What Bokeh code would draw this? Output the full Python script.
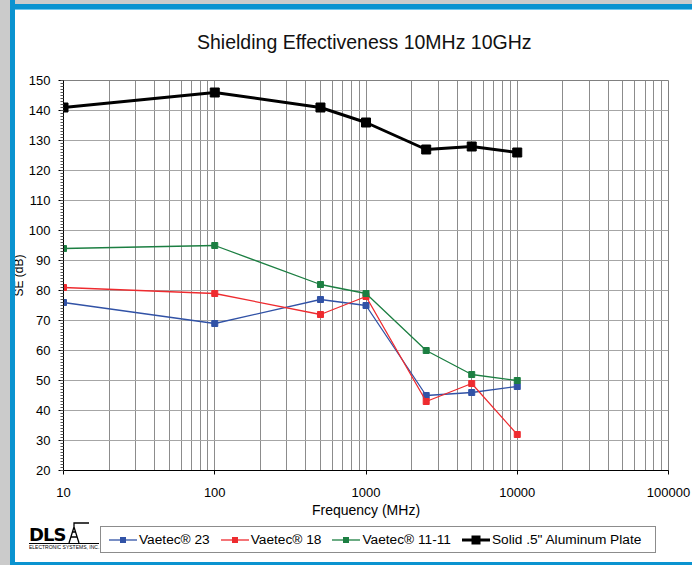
import html
from bokeh.plotting import figure
from bokeh.layouts import column
from bokeh.models import (Range1d, FixedTicker, SingleIntervalTicker, PrintfTickFormatter,
                          InlineStyleSheet, Div)
from bokeh.embed import file_html
from bokeh.resources import INLINE

# ---- data ----
freq_mhz = [10, 100, 500, 1000, 2500, 5000, 10000]
vaetec_23 = [76, 69, 77, 75, 45, 46, 48]
vaetec_18 = [81, 79, 72, 78, 43, 49, 32]
vaetec_11_11 = [94, 95, 82, 79, 60, 52, 50]
aluminum_plate = [141, 146, 141, 136, 127, 128, 126]

series_names = ["Vaetec® 23", "Vaetec® 18", "Vaetec® 11-11", "Solid .5\" Aluminum Plate"]
x_ticks = [10, 100, 1000, 10000, 100000]
y_min, y_max, y_step = 20, 150, 10
title_text = "Shielding Effectiveness 10MHz 10GHz"

FONT = "Liberation Sans"
BLUE_FRAME = "#0a93d0"
GRAY_BG = "#cbcbcb"

p = figure(width=692, height=565, x_axis_type="log",
           x_range=Range1d(10, 100000), y_range=Range1d(y_min, y_max),
           output_backend="svg", toolbar_location=None,
           min_border_left=63, min_border_right=24, min_border_top=80, min_border_bottom=95)

p.background_fill_color = "white"
p.border_fill_color = "white"
p.outline_line_color = "#808080"
p.outline_line_width = 1

# axes
minor = [m * 10 ** k for k in range(1, 5) for m in range(2, 10)]
p.xaxis.ticker = FixedTicker(ticks=x_ticks, minor_ticks=minor)
p.xaxis.formatter = PrintfTickFormatter(format="%d")
p.xaxis.axis_label = "Frequency (MHz)"
p.yaxis.ticker = SingleIntervalTicker(interval=y_step, num_minor_ticks=10)
p.yaxis.axis_label = "SE (dB)"

for ax in (p.xaxis[0], p.yaxis[0]):
    ax.axis_line_color = "black"
    ax.axis_line_width = 1
    ax.major_tick_line_color = "black"
    ax.minor_tick_line_color = "black"
    ax.major_tick_in = 0
    ax.minor_tick_in = 0
    ax.major_label_text_font = FONT
    ax.major_label_text_font_size = "13px"
    ax.major_label_text_color = "black"
    ax.axis_label_text_font = FONT
    ax.axis_label_text_font_style = "normal"
    ax.axis_label_text_color = "black"

p.xaxis.major_tick_out = 4
p.xaxis.minor_tick_out = 0
p.xaxis.major_label_standoff = 13
p.xaxis.axis_label_text_font_size = "14px"
p.xaxis.axis_label_standoff = 2

p.yaxis.major_tick_out = 5
p.yaxis.minor_tick_out = 3
p.yaxis.minor_tick_line_color = "#555555"
p.yaxis.major_label_standoff = 8
p.yaxis.axis_label_text_font_size = "12px"
p.yaxis.axis_label_standoff = 0

p.xgrid.grid_line_color = "#8c8c8c"
p.xgrid.minor_grid_line_color = "#8c8c8c"
p.ygrid.grid_line_color = "#a6a6a6"

# ---- series ----
styles = [
    (vaetec_23, "#3152A6", 1.3, 6),
    (vaetec_18, "#EE2B2F", 1.3, 6),
    (vaetec_11_11, "#1C7F42", 1.3, 6),
    (aluminum_plate, "#000000", 3, 9),
]
for name, (vals, col, lw, ms) in zip(series_names, styles):
    p.line(freq_mhz, vals, line_color=col, line_width=lw)
    p.scatter(freq_mhz, vals, marker="square", size=ms, fill_color=col, line_color=col)

# ---- decorative page frame drawn with CSS on the plot's own element ----
css = """
:host { position: relative; }
:host::after {
  content: "";
  position: absolute; left: 0; top: 0; width: 692px; height: 565px;
  pointer-events: none; z-index: 100;
  background:
    linear-gradient(to right, %(g)s 0px, %(g)s 10px, %(b)s 10px, %(b)s 15px) left top / 15px 100%% no-repeat,
    linear-gradient(to bottom, %(g)s 0px, %(g)s 4px, %(b)s 4px, %(b)s 9px, #6fc6ec 9px, #6fc6ec 10px) left top / 100%% 10px no-repeat,
    linear-gradient(%(b)s, %(b)s) left bottom / 100%% 3px no-repeat;
}
""" % {"g": GRAY_BG, "b": BLUE_FRAME}
p.stylesheets = [InlineStyleSheet(css=css)]


def overlay(html_text, left, top, w, h):
    return Div(text=html_text, width=w, height=h,
               styles={"position": "absolute", "left": "%dpx" % left, "top": "%dpx" % top,
                       "z-index": "10"})


# ---- chart title ----
title_div = overlay(
    '<div style="font-family:\'Liberation Sans\';font-size:19.5px;line-height:22px;'
    'color:#111;white-space:nowrap;">%s</div>' % html.escape(title_text),
    192, 26, 345, 22)

# ---- legend (built from the series names and styles) ----
items_html = ""
for i, (name, (vals, col, lw, ms)) in enumerate(zip(series_names, styles)):
    items_html += (
        '<div style="display:flex;align-items:center;margin-right:%dpx;">'
        '<svg width="28" height="12" viewBox="0 0 28 12" style="display:block">'
        '<line x1="0" y1="6" x2="28" y2="6" stroke="%s" stroke-width="%s"/>'
        '<rect x="%s" y="%s" width="%s" height="%s" fill="%s"/></svg>'
        '<span style="margin-left:2px;white-space:nowrap;">%s</span></div>'
        % (11 if i < len(series_names) - 1 else 0, col, lw,
           14 - ms / 2, 6 - ms / 2, ms, ms, col, html.escape(name)))
legend_div = overlay(
    '<div style="box-sizing:border-box;width:556px;height:27px;border:1px solid #8c8c8c;'
    'background:#fff;display:flex;align-items:center;padding-left:8px;'
    'font-family:\'Liberation Sans\';font-size:13.7px;color:#000;">%s</div>' % items_html,
    95, 521, 556, 27)

# ---- DLS logo ----
logo_html = (
    '<div style="position:relative;width:62px;height:36px;color:#000;">'
    '<div style="position:absolute;left:0;top:4px;font-family:\'DejaVu Sans\';font-weight:bold;'
    'font-size:18px;line-height:18px;letter-spacing:-1px;">DLS</div>'
    '<svg style="position:absolute;left:34px;top:0px" width="28" height="22" viewBox="0 0 28 22">'
    '<path d="M6 21 L11 5 L16 21 M8 15 L14 15 M9 10 L13 10 M11 5 L11 1 L26 1" '
    'stroke="#000" stroke-width="1.3" fill="none"/></svg>'
    '<div style="position:absolute;left:0;top:21px;font-family:\'Liberation Sans\';'
    'font-size:5px;line-height:5px;white-space:nowrap;border-top:1px solid #000;'
    'padding-top:1px;">ELECTRONIC SYSTEMS, INC.</div>'
    '</div>')
logo = overlay(logo_html, 24, 517, 62, 36)

layout = column(p, title_div, legend_div, logo)

open("out.html", "w").write(file_html(layout, INLINE))
